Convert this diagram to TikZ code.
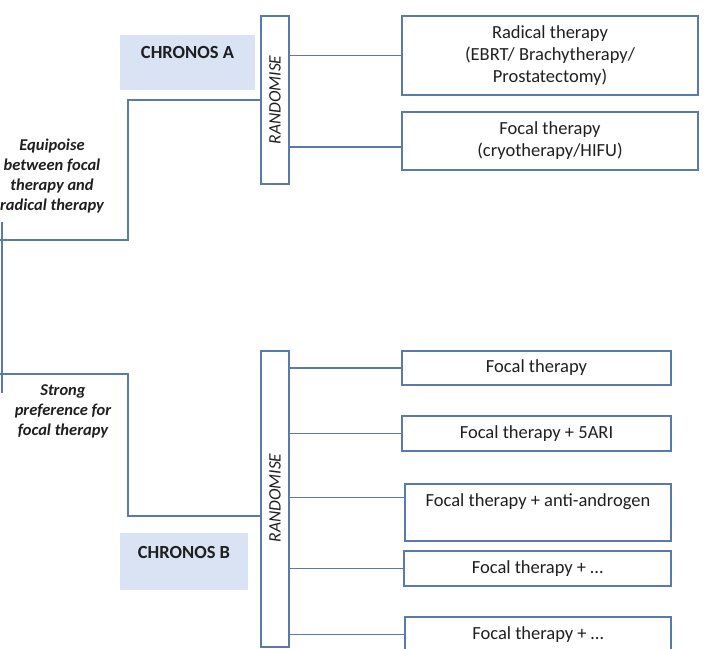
\documentclass[tikz,border=0pt]{standalone}
\usepackage{fontspec}
\setmainfont{Carlito}
\usepackage{xcolor}
\usetikzlibrary{positioning}

\definecolor{linkblue}{HTML}{5A7AAD}
\definecolor{panelblue}{HTML}{DAE3F3}
\definecolor{inkgray}{HTML}{1F1F1F}

\tikzset{
  link/.style={draw=linkblue, line width=1.1pt},
  armbox/.style={draw=linkblue, line width=1.1pt, rectangle, inner sep=0pt,
    align=center, text=inkgray, font=\fontsize{18.5}{22}\selectfont},
  randbox/.style={draw=linkblue, line width=1.1pt, rectangle, inner sep=0pt,
    minimum width=28pt},
  randtext/.style={rotate=90, text=inkgray, font=\fontsize{17.5}{20}\selectfont\itshape},
  panel/.style={fill=panelblue, rectangle, inner sep=0pt, text=inkgray,
    font=\fontsize{18.5}{22}\selectfont\bfseries},
  cue/.style={align=center, text=inkgray, inner sep=0pt,
    font=\fontsize{16.5}{20}\selectfont\bfseries\itshape},
}

\begin{document}
\begin{tikzpicture}[x=1pt, y=-1pt]
    % --- Frame ---
    \useasboundingbox (0,0) rectangle (706,648);
    \clip (0,0) rectangle (706,648);

    % --- CHRONOS A ---
    \node[panel, minimum width=135pt, text height=23pt, text depth=32pt] (chronA) at (187.5,62.5) {CHRONOS A};
    \node[randbox, minimum height=168pt] (randA) at (275,100) {};
    \node[randtext] (randAtxt) at (randA) {RANDOMISE};

    \node[armbox, minimum width=296pt, minimum height=79pt] (radical) at (550,55.5)
        {Radical therapy\\(EBRT/ Brachytherapy/\\Prostatectomy)};
    \node[armbox, minimum width=296pt, minimum height=58pt] (focalA) at (550,141)
        {Focal therapy\\(cryotherapy/HIFU)};

    \draw[link] (randA.east |- radical.west) -- (radical.west);
    \path ([yshift=-6pt]focalA.west) coordinate (focalAin);
    \draw[link] (randA.east |- focalAin) -- (focalAin);

    % --- CHRONOS B ---
    \node[panel, minimum width=128pt, text height=25pt, text depth=32pt] (chronB) at (184,561.5) {CHRONOS B};
    \node[randbox, minimum height=296pt] (randB) at (275,499) {};
    \node[randtext] (randBtxt) at (275,498) {RANDOMISE};

    \node[armbox, minimum width=269pt, minimum height=34pt] (armone) at (536.5,368) {Focal therapy};
    \node[armbox, minimum width=269pt, minimum height=35pt] (armtwo) at (536.5,433.5) {Focal therapy + 5ARI};
    \node[armbox, minimum width=266pt, text height=22pt, text depth=35pt] (armthree) at (538,512.5)
        {Focal therapy + anti-androgen};
    \node[armbox, minimum width=267pt, minimum height=35pt] (armfour) at (537.5,568.5) {Focal therapy + \dots};
    \node[armbox, minimum width=266pt, minimum height=35pt] (armfive) at (538,634.5) {Focal therapy + \dots};

    \foreach \arm in {armone,armtwo,armfour,armfive} {
        \draw[link] (randB.east |- \arm.west) -- (\arm.west);
    }
    \path ([yshift=15pt]armthree.west) coordinate (armthreein);
    \draw[link] (randB.east |- armthreein) -- (armthreein);

    % --- Left bracket ---
    \coordinate (kneeA) at (128,240);
    \coordinate (splitA) at (0,240);
    \coordinate (splitB) at (0,374);
    \coordinate (kneeB) at (128,374);
    \coordinate (stemtop) at (2,222);
    \coordinate (stembot) at (2,393);
    \path ([yshift=-17pt]randB.west) coordinate (randBin);

    \draw[link] (randA.west) -| (kneeA) -- (splitA);
    \draw[link] (splitB) -- (kneeB) |- (randBin);
    \draw[link] (stemtop) -- (stembot);

    \node[cue] (equipoise) at (52,176) {Equipoise\\between focal\\therapy and\\radical therapy};
    \node[cue] (preference) at (63,411) {Strong\\preference for\\focal therapy};
\end{tikzpicture}
\end{document}
